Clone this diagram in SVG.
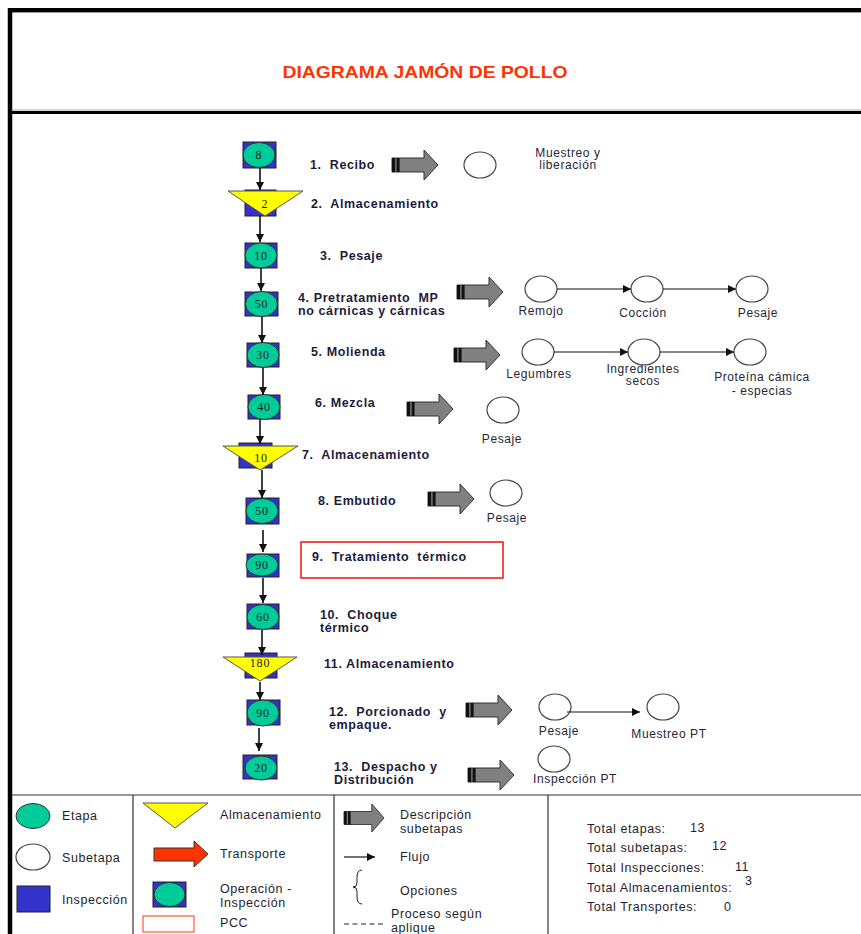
<svg xmlns="http://www.w3.org/2000/svg" width="861" height="934" viewBox="0 0 861 934">
<style>
  text { font-family: "Liberation Sans", Arial, sans-serif; white-space: pre; }
  .lbl { font-size: 12.5px; font-weight: bold; fill: #1c1c3a; letter-spacing: 0.6px; }
  .sub { font-size: 12px; fill: #262636; letter-spacing: 0.6px; text-anchor: middle; }
  .leg { font-size: 12.5px; fill: #1e1e2e; letter-spacing: 0.6px; }
  .num { font-family: "Liberation Serif", "Times New Roman", serif; font-size: 12px; fill: #222; text-anchor: middle; letter-spacing: 0.8px; }
  .insp { fill: #3333cc; stroke: #222; stroke-width: 1; }
  .etapa { fill: #00cc99; stroke: #333; stroke-width: 1; }
  .alm { fill: #ffff00; stroke: #555; stroke-width: 1; }
  .subc { fill: #fff; stroke: #444; stroke-width: 1.2; }
  .flow { stroke: #111; stroke-width: 1.6; fill: none; marker-end: url(#ah); }
  .subflow { stroke: #111; stroke-width: 1.2; fill: none; marker-end: url(#sh); }
</style>
<defs>
  <marker id="ah" viewBox="0 0 10 10" refX="10" refY="5" markerWidth="8" markerHeight="9" markerUnits="userSpaceOnUse" orient="auto">
    <path d="M0,0 L10,5 L0,10 z" fill="#111"/>
  </marker>
  <marker id="sh" viewBox="0 0 10 10" refX="10" refY="5" markerWidth="10" markerHeight="8" markerUnits="userSpaceOnUse" orient="auto">
    <path d="M0,0 L10,5 L0,10 z" fill="#111"/>
  </marker>
  <!-- striped grey block arrow pointing to the sub-step list -->
  <g id="subArrow">
    <path d="M0,-7 H32 V-15 L46,0 L32,15 V7 H0 Z" fill="#808080" stroke="#333" stroke-width="1"/>
    <rect x="0" y="-7" width="3.2" height="14" fill="#111"/>
    <rect x="4.6" y="-7" width="3" height="14" fill="#111"/>
  </g>
</defs>

<rect x="0" y="0" width="861" height="934" fill="#fff"/>

<!-- page frame and header -->
<g id="frame">
  <line x1="8" y1="10" x2="861" y2="10" stroke="#000" stroke-width="4"/>
  <line x1="12" y1="12.5" x2="861" y2="12.5" stroke="#999" stroke-width="1"/>
  <line x1="10" y1="8" x2="10" y2="934" stroke="#000" stroke-width="4.5"/>
  <line x1="12" y1="110" x2="861" y2="110" stroke="#aaa" stroke-width="1"/>
  <line x1="12" y1="112.5" x2="861" y2="112.5" stroke="#000" stroke-width="3"/>
  <text x="425" y="78" text-anchor="middle" font-size="16.5" font-weight="bold" fill="#ff3300" textLength="285" lengthAdjust="spacingAndGlyphs">DIAGRAMA JAMÓN DE POLLO</text>
</g>

<!-- main process steps -->
<g id="step-1">
  <rect class="insp" x="243" y="142" width="33" height="26"/>
  <ellipse class="etapa" cx="259" cy="155" rx="16" ry="12.5"/>
  <text class="num" x="259" y="159">8</text>
  <text class="lbl" x="310" y="169">1.  Recibo</text>
</g>
<g id="step-2">
  <rect class="insp" x="245" y="190" width="31" height="26"/>
  <polygon class="alm" points="228,191 303,191 265,216"/>
  <text class="num" x="265" y="208">2</text>
  <text class="lbl" x="311" y="208">2.  Almacenamiento</text>
</g>
<g id="step-3">
  <rect class="insp" x="245" y="243" width="32" height="25"/>
  <ellipse class="etapa" cx="261" cy="255.5" rx="16" ry="12.5"/>
  <text class="num" x="261" y="259.5">10</text>
  <text class="lbl" x="320" y="260">3.  Pesaje</text>
</g>
<g id="step-4">
  <rect class="insp" x="245" y="292" width="33" height="24"/>
  <ellipse class="etapa" cx="261.5" cy="304" rx="16" ry="12.5"/>
  <text class="num" x="261.5" y="308">50</text>
  <text class="lbl" x="298" y="302">4. Pretratamiento  MP</text>
  <text class="lbl" x="298" y="315">no cárnicas y cárnicas</text>
</g>
<g id="step-5">
  <rect class="insp" x="247" y="343" width="32" height="24"/>
  <ellipse class="etapa" cx="263" cy="355" rx="16" ry="12.5"/>
  <text class="num" x="263" y="359">30</text>
  <text class="lbl" x="311" y="356">5. Molienda</text>
</g>
<g id="step-6">
  <rect class="insp" x="248" y="395" width="32" height="24"/>
  <ellipse class="etapa" cx="264" cy="407" rx="16" ry="12.5"/>
  <text class="num" x="264" y="411">40</text>
  <text class="lbl" x="315" y="407">6. Mezcla</text>
</g>
<g id="step-7">
  <rect class="insp" x="239" y="443" width="33" height="25"/>
  <polygon class="alm" points="223,446 298,446 260,470"/>
  <text class="num" x="261" y="462">10</text>
  <text class="lbl" x="302" y="459">7.  Almacenamiento</text>
</g>
<g id="step-8">
  <rect class="insp" x="246" y="498" width="33" height="26"/>
  <ellipse class="etapa" cx="262" cy="511" rx="16" ry="12.5"/>
  <text class="num" x="262" y="515">50</text>
  <text class="lbl" x="318" y="505">8. Embutido</text>
</g>
<g id="step-9">
  <rect class="insp" x="247" y="554" width="32" height="23"/>
  <ellipse class="etapa" cx="262" cy="565" rx="16" ry="11"/>
  <text class="num" x="262" y="569">90</text>
  <rect x="301" y="542" width="202" height="36" fill="none" stroke="#ee1111" stroke-width="1.5"/>
  <text class="lbl" x="312" y="561">9.  Tratamiento  térmico</text>
</g>
<g id="step-10">
  <rect class="insp" x="247" y="604" width="32" height="25"/>
  <ellipse class="etapa" cx="263" cy="617" rx="16" ry="12.5"/>
  <text class="num" x="263" y="621">60</text>
  <text class="lbl" x="320" y="619">10.  Choque</text>
  <text class="lbl" x="320" y="632">térmico</text>
</g>
<g id="step-11">
  <rect class="insp" x="245" y="653" width="32" height="25"/>
  <polygon class="alm" points="223,657 297,657 260,681"/>
  <text class="num" x="260" y="667">180</text>
  <text class="lbl" x="324" y="668">11. Almacenamiento</text>
</g>
<g id="step-12">
  <rect class="insp" x="247" y="700" width="33" height="25"/>
  <ellipse class="etapa" cx="263" cy="713" rx="16" ry="13"/>
  <text class="num" x="263" y="717">90</text>
  <text class="lbl" x="329" y="716">12.  Porcionado  y</text>
  <text class="lbl" x="329" y="729">empaque.</text>
</g>
<g id="step-13">
  <rect class="insp" x="243" y="755" width="34" height="24"/>
  <ellipse class="etapa" cx="261" cy="768" rx="16" ry="12"/>
  <text class="num" x="261" y="772">20</text>
  <text class="lbl" x="334" y="770.5">13.  Despacho y</text>
  <text class="lbl" x="334" y="783.5">Distribución</text>
</g>

<!-- sub-steps -->
<g id="sub-1">
  <ellipse class="subc" cx="480" cy="165" rx="16" ry="13"/>
  <text class="sub" x="568" y="156.5">Muestreo y</text>
  <text class="sub" x="568" y="169">liberación</text>
</g>
<g id="sub-4a"><ellipse class="subc" cx="541" cy="289" rx="16" ry="13"/><text class="sub" x="541" y="315">Remojo</text></g>
<g id="sub-4b"><ellipse class="subc" cx="647" cy="289" rx="16" ry="13"/><text class="sub" x="643" y="317">Cocción</text></g>
<g id="sub-4c"><ellipse class="subc" cx="752" cy="289" rx="16" ry="13"/><text class="sub" x="758" y="317">Pesaje</text></g>
<g id="sub-5a"><ellipse class="subc" cx="538" cy="352" rx="16" ry="13"/><text class="sub" x="539" y="378">Legumbres</text></g>
<g id="sub-5b"><ellipse class="subc" cx="644" cy="352" rx="16" ry="13"/><text class="sub" x="643" y="372.5">Ingredientes</text><text class="sub" x="643" y="385">secos</text></g>
<g id="sub-5c"><ellipse class="subc" cx="750" cy="352" rx="16" ry="13"/><text class="sub" x="762" y="381">Proteína cámica</text><text class="sub" x="762" y="395">- especias</text></g>
<g id="sub-6"><ellipse class="subc" cx="503" cy="410" rx="16" ry="13"/><text class="sub" x="502" y="443">Pesaje</text></g>
<g id="sub-8"><ellipse class="subc" cx="506" cy="493" rx="16" ry="13"/><text class="sub" x="507" y="522">Pesaje</text></g>
<g id="sub-12a"><ellipse class="subc" cx="555" cy="707" rx="16" ry="13"/><text class="sub" x="559" y="735">Pesaje</text></g>
<g id="sub-12b"><ellipse class="subc" cx="663" cy="707" rx="16" ry="13"/><text class="sub" x="669" y="738">Muestreo PT</text></g>
<g id="sub-13"><ellipse class="subc" cx="554" cy="759" rx="16" ry="13"/><text class="sub" x="575" y="783">Inspección PT</text></g>

<!-- connectors -->
<g id="connectors">
  <line class="flow" x1="260" y1="168" x2="260" y2="190"/>
  <line class="flow" x1="260" y1="216" x2="260" y2="242"/>
  <line class="flow" x1="261" y1="268" x2="261" y2="291"/>
  <line class="flow" x1="262" y1="316" x2="262" y2="343"/>
  <line class="flow" x1="263" y1="367" x2="263" y2="395"/>
  <line class="flow" x1="260" y1="419" x2="260" y2="444"/>
  <line class="flow" x1="262" y1="470" x2="262" y2="498"/>
  <line class="flow" x1="263" y1="530" x2="263" y2="552"/>
  <line class="flow" x1="263" y1="578" x2="263" y2="603"/>
  <line class="flow" x1="262" y1="630" x2="262" y2="655"/>
  <line class="flow" x1="260" y1="682" x2="260" y2="700"/>
  <line class="flow" x1="259" y1="728" x2="259" y2="751"/>

  <use href="#subArrow" transform="translate(392,165)"/>
  <use href="#subArrow" transform="translate(457,292)"/>
  <use href="#subArrow" transform="translate(454,355)"/>
  <use href="#subArrow" transform="translate(407,409)"/>
  <use href="#subArrow" transform="translate(428,499)"/>
  <use href="#subArrow" transform="translate(466,710)"/>
  <use href="#subArrow" transform="translate(468,775)"/>

  <line class="subflow" x1="557" y1="289" x2="631" y2="289"/>
  <line class="subflow" x1="663" y1="289" x2="736" y2="289"/>
  <line class="subflow" x1="554" y1="352" x2="628" y2="352"/>
  <line class="subflow" x1="660" y1="352" x2="734" y2="352"/>
  <line class="subflow" x1="567" y1="712" x2="640" y2="712"/>
</g>

<!-- legend -->
<g id="legend">
  <line x1="12" y1="795" x2="861" y2="795" stroke="#333" stroke-width="1.2"/>
  <line x1="133" y1="795" x2="133" y2="934" stroke="#333" stroke-width="1.2"/>
  <line x1="334" y1="795" x2="334" y2="934" stroke="#333" stroke-width="1.2"/>
  <line x1="548" y1="795" x2="548" y2="934" stroke="#333" stroke-width="1.2"/>

  <ellipse class="etapa" cx="33" cy="816" rx="17" ry="12.5"/>
  <text class="leg" x="62" y="820">Etapa</text>
  <ellipse class="subc" cx="33" cy="857" rx="17" ry="13"/>
  <text class="leg" x="62" y="862">Subetapa</text>
  <rect class="insp" x="17" y="886" width="33" height="26"/>
  <text class="leg" x="62" y="904">Inspección</text>

  <polygon class="alm" points="143,803 208,803 175,828"/>
  <text class="leg" x="220" y="819">Almacenamiento</text>
  <path d="M154,848 H194 V841 L208,854 L194,867 V861 H154 Z" fill="#ff3300" stroke="#333" stroke-width="1"/>
  <text class="leg" x="220" y="858">Transporte</text>
  <rect class="insp" x="153" y="882" width="33" height="25"/>
  <ellipse class="etapa" cx="169.5" cy="894.5" rx="15.5" ry="12"/>
  <text class="leg" x="220" y="893">Operación -</text>
  <text class="leg" x="220" y="907">Inspección</text>
  <rect x="143" y="916" width="51" height="16" fill="none" stroke="#ff5533" stroke-width="1.2"/>
  <text class="leg" x="220" y="927">PCC</text>

  <use href="#subArrow" transform="translate(344,818) scale(0.87,0.93)"/>
  <text class="leg" x="400" y="819">Descripción</text>
  <text class="leg" x="400" y="833">subetapas</text>
  <line class="subflow" x1="344" y1="857" x2="375" y2="857"/>
  <text class="leg" x="400" y="861">Flujo</text>
  <path d="M362,870 Q357,870 357,877 L357,883 Q357,887 353,887 Q357,887 357,891 L357,897 Q357,904 362,904" fill="none" stroke="#222" stroke-width="1"/>
  <text class="leg" x="400" y="895">Opciones</text>
  <line x1="344" y1="924" x2="384" y2="924" stroke="#222" stroke-width="1" stroke-dasharray="5,3.5"/>
  <text class="leg" x="391" y="918">Proceso según</text>
  <text class="leg" x="391" y="932">aplique</text>

  <text class="leg" x="587" y="833">Total etapas:</text>
  <text class="leg" x="690" y="832">13</text>
  <text class="leg" x="587" y="852">Total subetapas:</text>
  <text class="leg" x="712" y="850">12</text>
  <text class="leg" x="587" y="872">Total Inspecciones:</text>
  <text class="leg" x="735" y="871">11</text>
  <text class="leg" x="587" y="892">Total Almacenamientos:</text>
  <text class="leg" x="745" y="885">3</text>
  <text class="leg" x="587" y="911">Total Transportes:</text>
  <text class="leg" x="724" y="911">0</text>
</g>
</svg>
